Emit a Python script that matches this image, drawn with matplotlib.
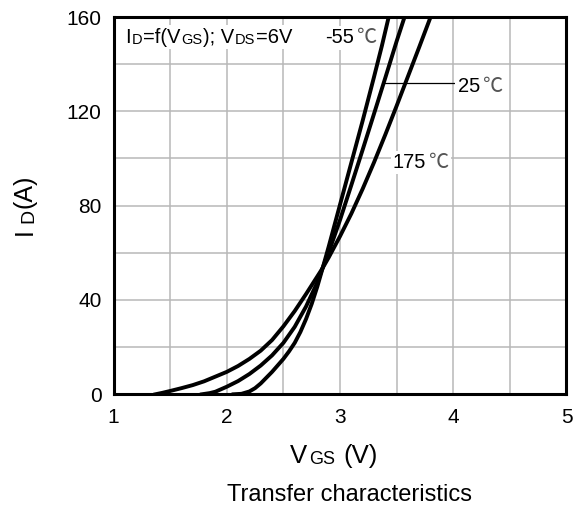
import matplotlib
matplotlib.use('Agg')
import matplotlib.pyplot as plt
from matplotlib.ticker import MultipleLocator

plt.rcParams['font.family'] = ['Liberation Sans', 'Noto Sans CJK SC', 'DejaVu Sans']

# transfer curves: gate voltage (V) and drain current (A)
vgs_m55 = [2.06, 2.13, 2.20, 2.25, 2.30, 2.40, 2.50, 2.55, 2.60, 2.65, 2.70, 2.75,
           2.80, 2.845, 2.90, 3.00, 3.10, 3.20, 3.30, 3.37, 3.43]
id_m55 = [0, 0.2, 1.2, 2.6, 4.6, 9.5, 15.0, 18.2, 21.8, 26.4, 31.9, 38.3,
          45.7, 53.2, 62.6, 80.4, 98.2, 116.0, 134.5, 147.8, 160]

vgs_25 = [1.78, 1.85, 1.90, 2.00, 2.10, 2.20, 2.30, 2.40, 2.50, 2.60, 2.70, 2.80,
          2.845, 2.92, 3.00, 3.10, 3.20, 3.30, 3.40, 3.50, 3.57]
id_25 = [0, 0.5, 1.1, 3.2, 5.6, 8.6, 12.2, 16.5, 21.8, 28.6, 37.2, 47.5,
         53.4, 62.9, 73.9, 88.7, 103.7, 118.9, 134.2, 149.7, 160]

vgs_175 = [1.37, 1.43, 1.50, 1.60, 1.70, 1.80, 1.90, 2.00, 2.10, 2.20, 2.30, 2.40,
           2.50, 2.60, 2.70, 2.80, 2.845, 2.90, 3.00, 3.10, 3.20, 3.30, 3.40, 3.50,
           3.60, 3.70, 3.80]
id_175 = [0, 0.6, 1.4, 2.6, 3.9, 5.5, 7.5, 9.5, 12.0, 15.0, 18.5, 23.0,
          28.8, 35.3, 42.5, 50.0, 53.4, 58.0, 67.0, 76.6, 87.1, 98.3, 110.1, 122.3,
          134.8, 147.3, 160]

fig = plt.figure(figsize=(5.8, 5.11), dpi=100)
ax = fig.add_axes([0.1957, 0.2284, 0.781, 0.7383])

for v, i in [(vgs_m55, id_m55), (vgs_25, id_25), (vgs_175, id_175)]:
    ax.plot(v, i, color='black', lw=2.8, solid_joinstyle='round', zorder=2)

ax.set_xlim(1, 5)
ax.set_ylim(0, 160)
ax.xaxis.set_major_locator(MultipleLocator(1))
ax.xaxis.set_minor_locator(MultipleLocator(0.5))
ax.yaxis.set_major_locator(MultipleLocator(40))
ax.yaxis.set_minor_locator(MultipleLocator(20))
ax.grid(which='both', color='#b8b8b8', lw=1.1)
ax.set_axisbelow(True)
ax.tick_params(which='both', length=0, labelsize=15)
ax.tick_params(axis='x', pad=9.8)
ax.tick_params(axis='y', pad=8.5)
for sp in ax.spines.values():
    sp.set_linewidth(2.2)


def chain(xy, coords, pieces, vertical=False):
    # lays out text pieces of mixed size one after another;
    # a first pass of empty white boxes hides the grid behind the text
    for layer in ('box', 'text'):
        prev = None
        for s, size, color, gap in pieces:
            kw = dict(fontsize=size, annotation_clip=False)
            if layer == 'box':
                kw.update(color='none', zorder=2.5,
                          bbox=dict(boxstyle='square,pad=0.12', fc='white', ec='none'))
            else:
                kw.update(color=color, zorder=3)
            if vertical:
                kw.update(rotation=90, ha='right', va='bottom')
            if prev is None:
                if not vertical:
                    kw.update(ha='left', va='baseline')
                prev = ax.annotate(s, xy=xy, xycoords=coords, **kw)
            elif vertical:
                prev = ax.annotate(s, xy=(1, 1), xycoords=prev, xytext=(0, gap),
                                   textcoords='offset pixels', **kw)
            else:
                prev = ax.annotate(s, xy=(1, 0), xycoords=prev, xytext=(gap, 0),
                                   textcoords='offset pixels', ha='left', va='bottom', **kw)


big, small = 14.5, 10.5
chain((1.10, 149.1), 'data',
      [('I', big, 'black', 0), ('D', small, 'black', 1), ('=f(V', big, 'black', 1),
       ('GS', small, 'black', 0.5), ('); V', big, 'black', 1), ('DS', small, 'black', 0.5),
       ('=6V', big, 'black', 1)])

deg = '\u2103'
chain((2.865, 148.9), 'data', [('-55', big, 'black', 0), (deg, big, '#555555', 2)])
chain((3.468, 96.0), 'data', [('175', big, 'black', 0), (deg, big, '#555555', 2)])
chain((4.04, 128.2), 'data', [('25', big, 'black', 0), (deg, big, '#555555', 2)])
ax.plot([3.40, 4.03], [132.1, 132.1], color='black', lw=0.9, zorder=2)

# axis labels with small subscripts
chain((290, 48), 'figure pixels',
      [('V', 18.5, 'black', 0), ('GS', 13, 'black', 2), ('(V)', 18.5, 'black', 8)])
chain((37, 276), 'figure pixels',
      [('I', 18, 'black', 0), ('D', 14, 'black', 5), ('(A)', 18, 'black', 1)],
      vertical=True)

fig.text(0.603, 0.0196, 'Transfer characteristics', fontsize=17, ha='center', va='baseline')

fig.savefig('out.png', dpi=100)
